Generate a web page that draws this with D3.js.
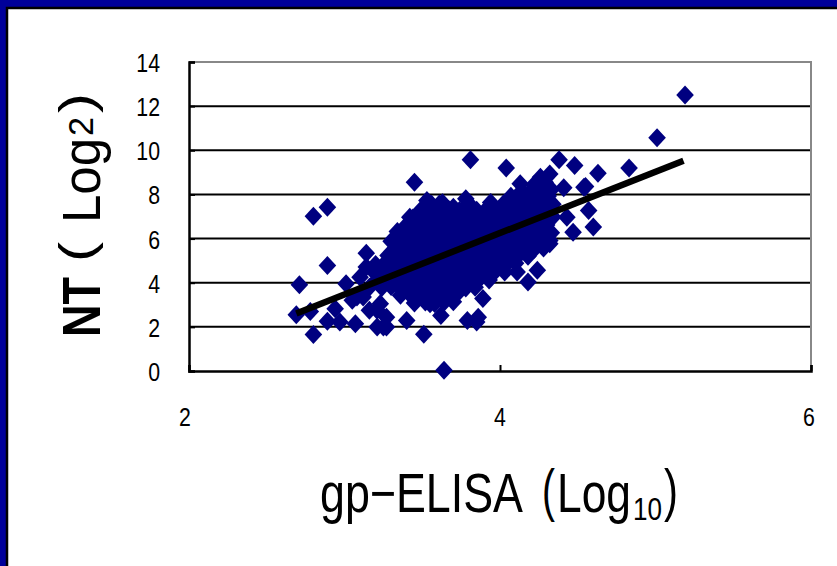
<!DOCTYPE html>
<html>
<head>
<meta charset="utf-8">
<script src="https://cdn.jsdelivr.net/npm/d3@7"></script>
<style>
  html, body { margin: 0; padding: 0; background: #ffffff; }
  svg { display: block; }
  .tick-label { font-family: "Liberation Sans", Arial, sans-serif; font-size: 26px; fill: #000; }
  .title { font-family: "Liberation Sans", Arial, sans-serif; fill: #000; }
</style>
</head>
<body>
<svg id="chart" width="837" height="566"></svg>
<script>
// NT titre (log2) against gp-ELISA titre (log10) for each serum sample.
// Sparse samples lying around the main group.
const outerPoints = [
  [5.19, 12.5], [5.01, 10.57], [4.83, 9.2], [4.63, 8.96], [4.48, 9.31], [4.38, 9.57],
  [4.04, 9.2], [3.81, 9.57], [3.45, 8.55], [2.80, 7.01], [2.89, 7.42], [2.71, 3.91],
  [2.89, 4.78], [2.69, 2.55], [2.78, 2.70], [2.80, 1.65], [2.89, 2.25], [2.97, 2.22],
  [2.94, 2.82], [3.07, 2.14], [3.01, 3.95], [3.14, 5.34], [3.14, 4.71], [3.10, 4.25],
  [3.05, 3.2], [3.21, 1.99], [3.27, 1.99], [3.40, 2.29], [3.51, 1.66], [3.64, 0.03],
  [3.62, 2.52], [3.79, 2.29], [3.85, 2.22], [3.86, 2.44], [3.89, 3.28], [3.34, 6.32],
  [3.42, 6.97], [3.32, 5.24], [3.30, 4.56], [3.23, 4.25], [3.16, 3.8], [3.12, 3.35],
  [3.23, 3.05], [3.27, 2.44], [3.16, 2.75], [3.08, 3.35], [3.38, 3.8], [3.44, 4.25],
  [3.49, 3.5], [3.55, 3.05], [3.53, 7.72], [3.61, 7.57], [3.70, 7.42], [3.78, 7.8],
  [4.13, 8.48], [4.26, 8.78], [4.32, 8.93], [4.41, 8.3], [4.55, 8.36], [4.57, 7.27],
  [4.60, 6.52], [4.47, 6.29], [4.43, 6.97], [4.32, 5.76], [4.24, 4.56], [4.18, 4.03],
  [4.11, 4.48], [4.15, 7.87], [4.54, 8.33], [3.21, 2.75], [3.25, 1.99]
];

// Samples forming the dense central group.
const corePoints = [
  [4.22, 8.45], [4.29, 8.55],
  [4.14, 8.15], [4.21, 8.25], [4.27, 8.18], [4.33, 8.22],
  [4.07, 7.92], [4.13, 7.85], [4.2, 7.95], [4.26, 7.88], [4.31, 7.93],
  [3.56, 7.55], [3.63, 7.62], [3.8, 7.58], [3.94, 7.63], [4.02, 7.55], [4.09, 7.6], [4.16, 7.66], [4.23, 7.57], [4.28, 7.62], [4.34, 7.55],
  [3.49, 7.28], [3.55, 7.33], [3.61, 7.25], [3.67, 7.32], [3.74, 7.27], [3.79, 7.35], [3.85, 7.28], [3.91, 7.31], [3.97, 7.26], [4.03, 7.34], [4.09, 7.29], [4.15, 7.31], [4.21, 7.24], [4.27, 7.33], [4.33, 7.3],
  [3.44, 6.93], [3.5, 6.98], [3.57, 6.9], [3.62, 6.97], [3.68, 6.94], [3.74, 7.0], [3.81, 6.92], [3.86, 6.96], [3.92, 6.91], [3.98, 6.99], [4.04, 6.94], [4.1, 6.97], [4.16, 6.9], [4.22, 6.96], [4.28, 6.93], [4.34, 6.98],
  [3.4, 6.62], [3.46, 6.57], [3.52, 6.63], [3.58, 6.59], [3.64, 6.64], [3.7, 6.56], [3.77, 6.61], [3.82, 6.58], [3.88, 6.65], [3.94, 6.6], [4.0, 6.57], [4.06, 6.63], [4.12, 6.58], [4.18, 6.62], [4.24, 6.55], [4.3, 6.61],
  [3.37, 6.24], [3.43, 6.28], [3.49, 6.21], [3.55, 6.26], [3.61, 6.23], [3.67, 6.29], [3.73, 6.22], [3.79, 6.27], [3.85, 6.2], [3.91, 6.25], [3.97, 6.3], [4.03, 6.22], [4.09, 6.26], [4.15, 6.21], [4.21, 6.28], [4.27, 6.23], [4.33, 6.26],
  [3.3, 5.88], [3.36, 5.93], [3.42, 5.86], [3.48, 5.91], [3.54, 5.94], [3.6, 5.87], [3.66, 5.92], [3.72, 5.89], [3.78, 5.95], [3.84, 5.86], [3.9, 5.9], [3.96, 5.93], [4.02, 5.87], [4.08, 5.92], [4.14, 5.88], [4.2, 5.94], [4.26, 5.86], [4.32, 5.91],
  [3.33, 5.58], [3.38, 5.51], [3.44, 5.56], [3.5, 5.59], [3.56, 5.52], [3.62, 5.57], [3.68, 5.54], [3.74, 5.6], [3.8, 5.51], [3.86, 5.56], [3.92, 5.53], [3.98, 5.58], [4.04, 5.5], [4.1, 5.55], [4.16, 5.59], [4.22, 5.52], [4.28, 5.57],
  [3.28, 5.23], [3.34, 5.16], [3.4, 5.21], [3.46, 5.24], [3.52, 5.17], [3.58, 5.22], [3.64, 5.19], [3.7, 5.25], [3.76, 5.16], [3.82, 5.2], [3.88, 5.23], [3.94, 5.17], [4.0, 5.22], [4.06, 5.18], [4.12, 5.24], [4.18, 5.2],
  [3.2, 4.83], [3.26, 4.88], [3.32, 4.81], [3.38, 4.86], [3.44, 4.89], [3.5, 4.82], [3.56, 4.87], [3.62, 4.84], [3.68, 4.9], [3.74, 4.81], [3.8, 4.85], [3.86, 4.88], [3.92, 4.82], [3.98, 4.87], [4.04, 4.83], [4.1, 4.88],
  [3.19, 4.48], [3.25, 4.53], [3.31, 4.46], [3.37, 4.51], [3.43, 4.54], [3.49, 4.47], [3.55, 4.52], [3.61, 4.49], [3.67, 4.55], [3.73, 4.46], [3.79, 4.5], [3.85, 4.53], [3.91, 4.47], [3.97, 4.52], [4.03, 4.48],
  [3.21, 4.13], [3.27, 4.18], [3.33, 4.11], [3.39, 4.16], [3.45, 4.19], [3.51, 4.12], [3.57, 4.17], [3.63, 4.14], [3.69, 4.2], [3.75, 4.11], [3.81, 4.15], [3.87, 4.18], [3.93, 4.12],
  [3.24, 3.78], [3.3, 3.83], [3.36, 3.76], [3.42, 3.81], [3.48, 3.84], [3.54, 3.77], [3.6, 3.82], [3.66, 3.79], [3.72, 3.85], [3.78, 3.76], [3.84, 3.8],
  [3.36, 3.43], [3.42, 3.48], [3.48, 3.41], [3.54, 3.46], [3.6, 3.49], [3.66, 3.42], [3.72, 3.47],
  [3.45, 3.08], [3.52, 3.13], [3.58, 3.06], [3.64, 3.11], [3.7, 3.14]
];

// Linear trend line: NT = slope * ELISA + intercept, drawn over the ELISA span.
const trendSlope = 2.78;
const trendIntercept = -4.87;
const trendSpan = [2.69, 5.18];

// Axis ticks.
const xTicks = [2, 4, 6];
const yTicks = [0, 2, 4, 6, 8, 10, 12, 14];

const svg = d3.select("#chart");
const W = 837, H = 566;

// Slide background with framed white panel.
svg.append("rect").attr("width", W).attr("height", H).attr("fill", "#00009a");
svg.append("rect").attr("x", 7).attr("y", 8).attr("width", W + 20).attr("height", H + 20)
  .attr("fill", "#ffffff").attr("stroke", "#000").attr("stroke-width", 2.5);

const plot = { left: 189, right: 811, top: 62, bottom: 371 };
const x = d3.scaleLinear().domain([2, 6]).range([plot.left, plot.right]);
const y = d3.scaleLinear().domain([0, 14]).range([plot.bottom, plot.top]);

// Horizontal gridlines.
svg.append("g").selectAll("line").data(yTicks.filter(v => v > 0 && v < 14)).join("line")
  .attr("x1", plot.left).attr("x2", plot.right)
  .attr("y1", d => y(d)).attr("y2", d => y(d))
  .attr("stroke", "#000").attr("stroke-width", 2);

// Top and right plot border.
svg.append("path")
  .attr("d", `M${plot.left},${y(14)}H${x(6)}V${y(0)}`)
  .attr("fill", "none").attr("stroke", "#888").attr("stroke-width", 2);

// Axes with inside ticks.
const yAxis = d3.axisLeft(y).tickValues(yTicks).tickSize(-6).tickFormat("");
const xAxis = d3.axisBottom(x).tickValues(xTicks).tickSize(-6).tickFormat("");
const gy = svg.append("g").attr("transform", `translate(${plot.left},0)`).call(yAxis);
const gx = svg.append("g").attr("transform", `translate(0,${plot.bottom})`).call(xAxis);
[gy, gx].forEach(g => {
  g.select(".domain").attr("stroke", "#000").attr("stroke-width", 2.5);
  g.selectAll(".tick line").attr("stroke", "#000").attr("stroke-width", 2);
});

// Tick labels (condensed digits).
svg.append("g").selectAll("g").data(yTicks).join("g")
  .attr("transform", d => `translate(160,${y(d) + 10}) scale(0.82,1)`)
  .append("text").attr("class", "tick-label")
  .attr("text-anchor", "end")
  .text(d => d);
svg.append("g").selectAll("g").data(xTicks).join("g")
  .attr("transform", d => `translate(${x(d) - (d === 2 ? 4 : 0) - (d === 6 ? 2 : 0)},426) scale(0.82,1)`)
  .append("text").attr("class", "tick-label")
  .attr("text-anchor", "middle")
  .text(d => d);

// Points.
const rx = 8.8, ry = 9.5;
const diamond = `M0,${-ry}L${rx},0L0,${ry}L${-rx},0Z`;
const allPoints = outerPoints.concat(corePoints);
svg.append("g").selectAll("path").data(allPoints).join("path")
  .attr("d", diamond)
  .attr("transform", d => `translate(${x(d[0])},${y(d[1])})`)
  .attr("fill", "#000080");

// Trend line.
const line = d3.line().x(d => x(d)).y(d => y(trendSlope * d + trendIntercept));
svg.append("path").datum(trendSpan)
  .attr("d", line)
  .attr("fill", "none").attr("stroke", "#000").attr("stroke-width", 6.5);

// Axis titles: each piece is its own text, squeezed horizontally to its width.
function title(parent, pieces) {
  pieces.forEach(p => {
    const g = parent.append("g");
    const t = g.append("text").attr("class", "title")
      .attr("font-size", p.size).text(p.text);
    if (p.bold) t.attr("font-weight", "bold");
    const natural = t.node().getComputedTextLength();
    g.attr("transform", `translate(${p.x},${p.y}) scale(${p.len / natural},1)`);
  });
}

title(svg.append("g"), [
  { text: "gp\u2212ELISA", x: 320, y: 512, size: 55, len: 203 },
  { text: "(", x: 542, y: 510, size: 58, len: 13 },
  { text: "Log", x: 557, y: 512, size: 55, len: 74 },
  { text: "10", x: 633, y: 520, size: 31, len: 29 },
  { text: ")", x: 664, y: 510, size: 58, len: 14 }
]);

title(svg.append("g").attr("transform", "rotate(-90)"), [
  { text: "NT", x: -337, y: 100, size: 53, len: 60, bold: true },
  { text: "(", x: -262, y: 93, size: 49, len: 20 },
  { text: "Log", x: -223, y: 100, size: 53, len: 85 },
  { text: "2", x: -136, y: 93, size: 35, len: 19 },
  { text: ")", x: -113, y: 93, size: 49, len: 20 }
]);
</script>
</body>
</html>
